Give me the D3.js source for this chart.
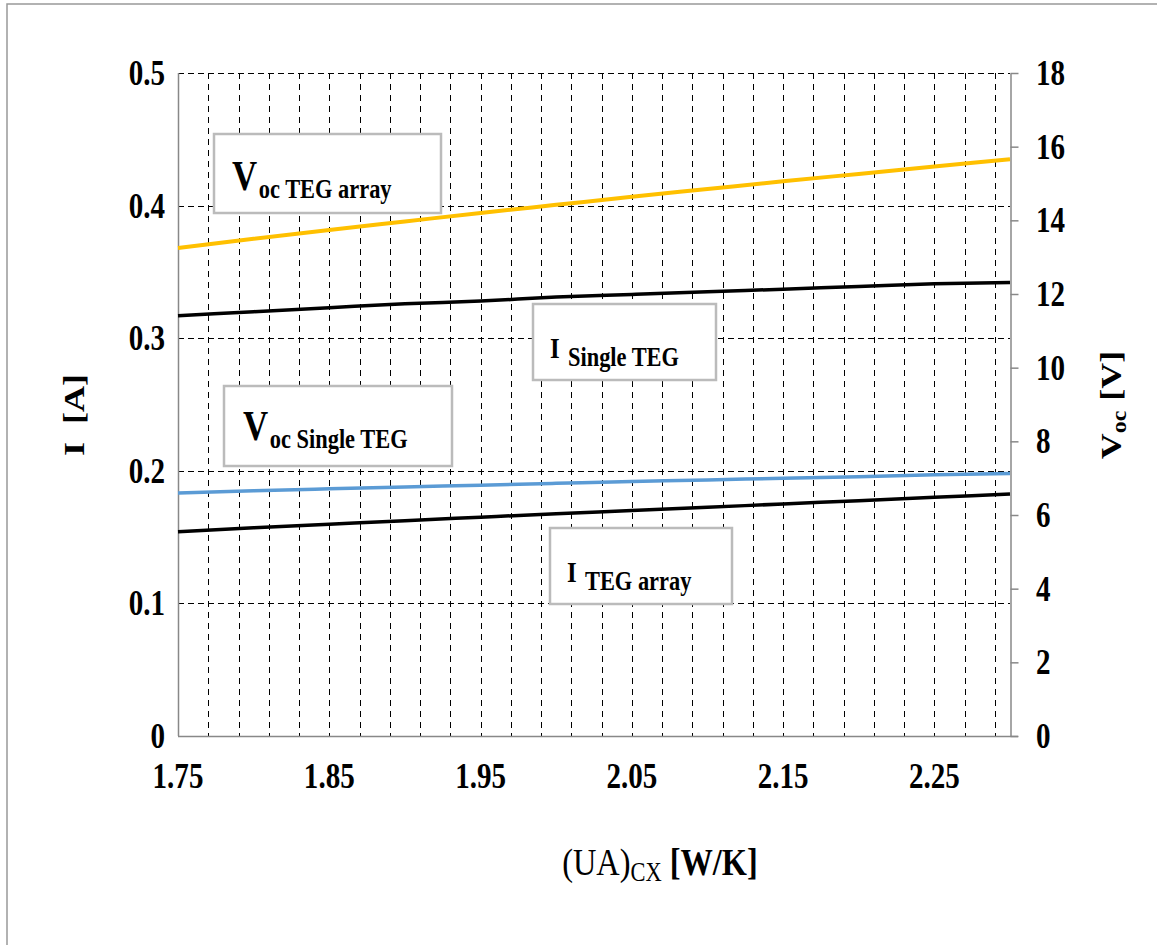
<!DOCTYPE html>
<html>
<head>
<meta charset="utf-8">
<script src="https://cdn.jsdelivr.net/npm/d3@7"></script>
<style>
  body { margin: 0; background: #fff; }
  text { font-family: "Liberation Serif", "Times New Roman", serif; font-weight: bold; fill: #000; }
</style>
</head>
<body>
<div id="chart"></div>
<script>
var xValues = [1.75, 1.80, 1.85, 1.90, 1.95, 2.00, 2.05, 2.10, 2.15, 2.20, 2.25, 2.30];
var iSingle = [0.317, 0.320, 0.323, 0.326, 0.328, 0.331, 0.333, 0.335, 0.337, 0.339, 0.341, 0.342];
var iArray = [0.154, 0.157, 0.1597, 0.1624, 0.165, 0.1676, 0.170, 0.1725, 0.175, 0.1775, 0.180, 0.1825];
var vocArray = [13.25, 13.5, 13.74, 13.97, 14.2, 14.42, 14.64, 14.85, 15.06, 15.26, 15.46, 15.66];
var vocSingle = [6.60, 6.66, 6.71, 6.76, 6.81, 6.86, 6.91, 6.95, 7.00, 7.04, 7.09, 7.13];

var xTickLabels = [1.75, 1.85, 1.95, 2.05, 2.15, 2.25];
var leftTicks = [0, 0.1, 0.2, 0.3, 0.4, 0.5];
var rightTicks = [0, 2, 4, 6, 8, 10, 12, 14, 16, 18];

var width = 1157, height = 945;
var plotLeft = 178, plotRight = 1010, plotTop = 73, plotBottom = 736;

var svg = d3.select("#chart").append("svg").attr("width", width).attr("height", height);

// outer frame
svg.append("rect").attr("x", 7).attr("y", 4).attr("width", 1160).attr("height", 960)
  .attr("fill", "none").attr("stroke", "#999").attr("stroke-width", 1.5);

var x = d3.scaleLinear().domain([1.75, 2.30]).range([plotLeft, plotRight]);
var yI = d3.scaleLinear().domain([0, 0.5]).range([plotBottom, plotTop]);
var yV = d3.scaleLinear().domain([0, 18]).range([plotBottom, plotTop]);

// vertical dashed grid every 0.02
var vGrid = d3.range(1, 28).map(function(i) { return 1.75 + i * 0.02; });
svg.append("g").selectAll("line").data(vGrid).enter().append("line")
  .attr("x1", function(d) { return Math.round(x(d)) + 0.5; })
  .attr("x2", function(d) { return Math.round(x(d)) + 0.5; })
  .attr("y1", plotTop).attr("y2", plotBottom)
  .attr("stroke", "#000").attr("stroke-width", 1).attr("stroke-dasharray", "6,5");

// horizontal dashed grid
svg.append("g").selectAll("line").data(leftTicks.slice(1)).enter().append("line")
  .attr("x1", plotLeft).attr("x2", plotRight)
  .attr("y1", function(d) { return Math.round(yI(d)) + 0.5; })
  .attr("y2", function(d) { return Math.round(yI(d)) + 0.5; })
  .attr("stroke", "#000").attr("stroke-width", 1).attr("stroke-dasharray", "6,4");

// axis lines
svg.append("line").attr("x1", plotLeft + 0.5).attr("x2", plotLeft + 0.5).attr("y1", plotTop).attr("y2", plotBottom)
  .attr("stroke", "#888").attr("stroke-width", 1.5);
svg.append("line").attr("x1", plotLeft).attr("x2", plotRight + 8).attr("y1", plotBottom + 0.5).attr("y2", plotBottom + 0.5)
  .attr("stroke", "#888").attr("stroke-width", 1.5);

var rightAxis = d3.axisRight(yV).tickValues(rightTicks).tickSize(8).tickSizeOuter(0).tickFormat("");
var gR = svg.append("g").attr("transform", "translate(" + (plotRight + 0.5) + ",0)").call(rightAxis);
gR.selectAll("path, line").attr("stroke", "#888").attr("stroke-width", 1.5);

var sx = 0.83;

// tick labels
svg.append("g").selectAll("text").data(leftTicks).enter().append("text")
  .attr("transform", function(d) { return "translate(165," + (yI(d) + 12) + ") scale(" + sx + ",1)"; })
  .attr("text-anchor", "end").attr("font-size", 35)
  .text(function(d) { return d === 0 ? "0" : d3.format(".1f")(d); });

svg.append("g").selectAll("text").data(rightTicks).enter().append("text")
  .attr("transform", function(d) { return "translate(1036," + (yV(d) + 12) + ") scale(" + sx + ",1)"; })
  .attr("text-anchor", "start").attr("font-size", 35)
  .text(function(d) { return d; });

svg.append("g").selectAll("text").data(xTickLabels).enter().append("text")
  .attr("transform", function(d) { return "translate(" + x(d) + ",788) scale(" + sx + ",1)"; })
  .attr("text-anchor", "middle").attr("font-size", 35)
  .text(function(d) { return d3.format(".2f")(d); });

// axis titles
var xt = svg.append("text").attr("transform", "translate(660,875) scale(" + sx + ",1)")
  .attr("text-anchor", "middle").attr("font-size", 39);
xt.append("tspan").attr("font-weight", "normal").text("(UA)");
xt.append("tspan").attr("font-weight", "normal").attr("font-size", 27).attr("dy", 6).text("CX");
xt.append("tspan").attr("dy", -6).text(" [W/K]");

svg.append("text").attr("transform", "translate(84,415) rotate(-90) scale(1," + sx + ")")
  .attr("text-anchor", "middle").attr("font-size", 36)
  .attr("xml:space", "preserve")
  .text("I  [A]");

var vt = svg.append("text").attr("transform", "translate(1121,405) rotate(-90) scale(1," + sx + ")")
  .attr("text-anchor", "middle").attr("font-size", 36);
vt.append("tspan").text("V");
vt.append("tspan").attr("font-size", 24).attr("dy", 6).text("oc");
vt.append("tspan").attr("dy", -6).attr("dx", 10).text("[V]");

// series lines
var seriesList = [
  { values: iArray, scale: yI, color: "#000", w: 3.5 },
  { values: vocSingle, scale: yV, color: "#5B9BD5", w: 3.5 },
  { values: iSingle, scale: yI, color: "#000", w: 3.5 },
  { values: vocArray, scale: yV, color: "#FFC000", w: 4 }
];
seriesList.forEach(function(s) {
  var line = d3.line()
    .x(function(d, i) { return x(xValues[i]); })
    .y(function(d) { return s.scale(d); })
    .curve(d3.curveMonotoneX);
  svg.append("path").datum(s.values).attr("d", line)
    .attr("fill", "none").attr("stroke", s.color).attr("stroke-width", s.w);
});

// label boxes
var labels = [
  { x: 214, y: 134, w: 227, h: 79, big: "V", small: "oc TEG array", bigSize: 42, gap: 2, tx: 232, ty: 190 },
  { x: 533, y: 304, w: 183, h: 76, big: "I", small: "Single TEG", bigSize: 30, gap: 10, tx: 550, ty: 358 },
  { x: 224, y: 386, w: 228, h: 80, big: "V", small: "oc Single TEG", bigSize: 42, gap: 2, tx: 243, ty: 440 },
  { x: 550, y: 528, w: 182, h: 76, big: "I", small: "TEG array", bigSize: 30, gap: 10, tx: 567, ty: 582 }
];
labels.forEach(function(l) {
  svg.append("rect").attr("x", l.x).attr("y", l.y).attr("width", l.w).attr("height", l.h)
    .attr("fill", "#fff").attr("stroke", "#bbb").attr("stroke-width", 2.5);
  var t = svg.append("text").attr("transform", "translate(" + l.tx + "," + l.ty + ") scale(" + sx + ",1)");
  t.append("tspan").attr("font-size", l.bigSize).text(l.big);
  t.append("tspan").attr("font-size", 27).attr("dy", 8).attr("dx", l.gap).text(l.small);
});
</script>
</body>
</html>
